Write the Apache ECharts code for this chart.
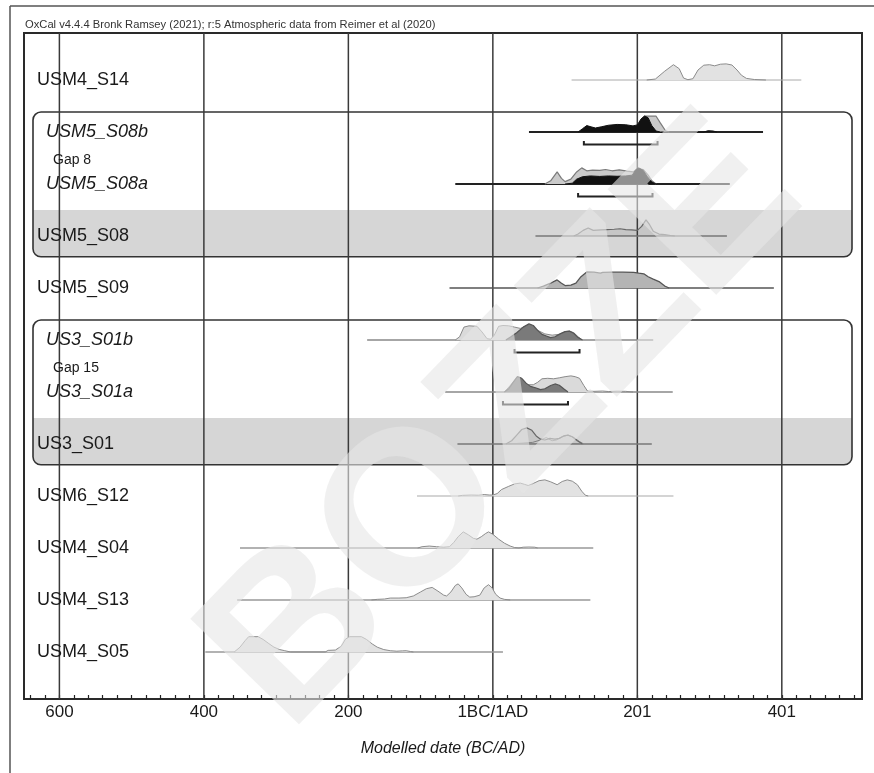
<!DOCTYPE html>
<html>
<head>
<meta charset="utf-8">
<script src="https://cdn.jsdelivr.net/npm/echarts@6/dist/echarts.min.js"></script>
<style>
  html, body { margin: 0; padding: 0; background: #fff; }
  #chart { width: 874px; height: 773px; }
</style>
</head>
<body>
<div id="chart"></div>
<script>
// rows, top to bottom
const rowLabels = ['USM4_S14', 'USM5_S08b', 'USM5_S08a', 'USM5_S08', 'USM5_S09',
  'US3_S01b', 'US3_S01a', 'US3_S01', 'USM6_S12', 'USM4_S04', 'USM4_S13', 'USM4_S05'];
const rowItalic = [false, true, true, false, false, true, true, false, false, false, false, false];
// horizontal range line of each row (years, 0 = 1BC/1AD)
const rangeStart = [109, 50, -52, 59, -60, -174, -66, -49, -105, -350, -354, -398];
const rangeEnd = [427, 374, 328, 324, 389, 222, 249, 220, 250, 139, 135, 14];

// x axis
const tickYears = [-600, -400, -200, 0, 200, 400];
const tickLabels = ['600', '400', '200', '1BC/1AD', '201', '401'];

// boundaries / gaps / 95% brackets
const gapLabels = ['Gap 8', 'Gap 15'];
const gapRows = [1.54, 5.54];
const groupFirstRow = [1, 5];
const groupLastRow = [3, 7];
const bracketRows = [1, 2, 5, 6];
const bracketStart = [126, 118, 30, 14];
const bracketEnd = [228, 221, 120, 104];

// probability distributions: [year, relative density]
const s14Like = [[213,0],[225,0.06],[238,0.55],[250,0.95],[258,0.7],[264,0.12],[270,0.02],[277,0.08],[284,0.62],[292,0.92],[300,0.95],[307,0.88],[315,0.98],[323,1],[331,0.93],[338,0.62],[344,0.3],[351,0.1],[362,0.03],[378,0]];
const s08bLike = [[198,0],[205,0.75],[211,0.98],[226,0.98],[232,0.55],[239,0.08],[244,0]];
const s08bPost = [[118,0],[124,0.2],[130,0.4],[136,0.32],[142,0.25],[150,0.32],[160,0.42],[172,0.47],[184,0.45],[194,0.38],[200,0.44],[205,0.8],[210,1],[215,0.88],[220,0.4],[226,0.06],[232,0],[292,0],[298,0.08],[305,0.06],[310,0]];
const s08aLike = [[72,0],[80,0.2],[89,0.75],[95,0.35],[100,0.15],[108,0.3],[116,0.75],[123,1],[130,0.82],[138,0.86],[148,0.85],[156,0.9],[165,0.82],[175,0.88],[186,0.8],[194,0.75],[201,0.95],[208,0.9],[215,0.55],[220,0.2],[226,0]];
const s08aPost = [[100,0],[110,0.05],[116,0.3],[124,0.45],[135,0.5],[148,0.47],[160,0.5],[172,0.48],[184,0.5],[193,0.55],[198,0.9],[202,1],[208,0.85],[214,0.45],[220,0.12],[226,0]];
const s08Post = [[112,0],[118,0.12],[125,0.35],[132,0.5],[139,0.35],[150,0.38],[158,0.4],[168,0.42],[176,0.45],[184,0.4],[192,0.38],[200,0.35],[206,0.6],[212,1],[217,0.7],[222,0.3],[230,0.12],[238,0.08],[246,0.03],[252,0]];
const s09Post = [[62,0],[70,0.12],[80,0.3],[89,0.5],[95,0.3],[100,0.15],[108,0.18],[115,0.3],[122,0.7],[130,1],[140,0.98],[149,0.92],[152,0.97],[165,0.98],[180,0.98],[195,0.97],[202,0.92],[209,0.88],[215,0.7],[222,0.55],[230,0.4],[238,0.12],[244,0]];
const s01bLike = [[-52,0],[-46,0.2],[-40,0.8],[-33,0.88],[-22,0.85],[-15,0.5],[-8,0.08],[-3,0.05],[2,0.3],[8,0.85],[14,0.9],[22,0.88],[30,0.8],[38,0.72],[46,0.85],[54,0.9],[62,0.6],[72,0.38],[82,0.3],[92,0.35],[100,0.52],[106,0.55],[112,0.45],[118,0.2],[124,0]];
const s01bPost = [[18,0],[25,0.2],[33,0.45],[42,0.8],[50,1],[56,0.9],[62,0.6],[68,0.35],[74,0.25],[80,0.15],[86,0.2],[93,0.38],[100,0.52],[106,0.55],[112,0.42],[118,0.15],[124,0]];
const s01aLike = [[16,0],[28,0.6],[34,0.95],[40,0.8],[48,0.45],[56,0.45],[62,0.6],[68,0.82],[76,0.85],[84,0.82],[92,0.88],[100,0.95],[108,1],[114,0.95],[120,0.85],[126,0.4],[131,0.06],[140,0.04],[152,0.06],[160,0.03],[172,0.05],[184,0.04],[194,0]];
const s01aPost = [[16,0],[22,0.2],[28,0.6],[34,0.95],[40,0.85],[46,0.55],[52,0.35],[60,0.25],[66,0.15],[72,0.2],[80,0.4],[86,0.5],[92,0.42],[98,0.2],[104,0]];
const s01Like = [[20,0],[40,0.05],[55,0.1],[66,0.25],[74,0.4],[82,0.2],[88,0.25],[96,0.45],[104,0.55],[112,0.4],[120,0.15],[126,0]];
const s01Post = [[18,0],[26,0.2],[34,0.6],[40,0.9],[47,1],[54,0.85],[60,0.5],[66,0.3],[72,0.25],[79,0.35],[86,0.3],[92,0.35],[98,0.5],[104,0.55],[110,0.45],[117,0.2],[124,0]];
const s12Like = [[-48,0],[-42,0.04],[-30,0.06],[-20,0.05],[-12,0.09],[-5,0.06],[0,0.06],[6,0.15],[12,0.4],[22,0.6],[30,0.75],[38,0.8],[44,0.72],[49,0.65],[56,0.78],[64,0.95],[72,1],[80,0.88],[89,0.7],[96,0.9],[103,1],[110,0.92],[117,0.7],[123,0.3],[128,0.05],[132,0]];
const s04Like = [[-104,0],[-98,0.08],[-88,0.12],[-78,0.08],[-68,0.05],[-60,0.08],[-54,0.35],[-48,0.7],[-41,1],[-34,0.82],[-27,0.6],[-22,0.55],[-16,0.7],[-10,0.9],[-6,1],[0,0.85],[8,0.55],[16,0.3],[24,0.12],[30,0.03],[36,0],[42,0.05],[50,0.06],[58,0.05],[62,0]];
const s13Like = [[-168,0],[-160,0.04],[-150,0.06],[-142,0.12],[-130,0.12],[-120,0.14],[-110,0.25],[-100,0.5],[-92,0.7],[-84,0.78],[-76,0.55],[-68,0.3],[-64,0.25],[-58,0.5],[-52,0.9],[-48,1],[-43,0.75],[-37,0.35],[-32,0.18],[-26,0.2],[-18,0.3],[-12,0.75],[-6,0.95],[-1,0.75],[4,0.35],[10,0.12],[16,0.04],[24,0]];
const s05Like = [[-358,0],[-350,0.3],[-343,0.7],[-338,0.95],[-325,0.95],[-318,0.78],[-311,0.55],[-303,0.3],[-295,0.15],[-288,0.08],[-280,0],[-232,0],[-228,0.1],[-218,0.12],[-210,0.35],[-204,0.8],[-198,0.95],[-182,0.95],[-175,0.78],[-167,0.5],[-160,0.3],[-151,0.15],[-142,0.08],[-133,0.05],[-125,0.07],[-120,0.08],[-114,0.03],[-110,0]];

const dists = [
  { row: 0, pts: s14Like, kind: 'single' },
  { row: 1, pts: s08bLike, kind: 'likeGroup' },
  { row: 1, pts: s08bPost, kind: 'postBlack' },
  { row: 2, pts: s08aLike, kind: 'likeGroup' },
  { row: 2, pts: s08aPost, kind: 'postBlack' },
  { row: 3, pts: s08Post, kind: 'band' },
  { row: 4, pts: s09Post, kind: 'mid' },
  { row: 5, pts: s01bLike, kind: 'likeLight' },
  { row: 5, pts: s01bPost, kind: 'postDark' },
  { row: 6, pts: s01aLike, kind: 'likeLight' },
  { row: 6, pts: s01aPost, kind: 'postDark' },
  { row: 7, pts: s01Like, kind: 'bandLight' },
  { row: 7, pts: s01Post, kind: 'band' },
  { row: 8, pts: s12Like, kind: 'single' },
  { row: 9, pts: s04Like, kind: 'single' },
  { row: 10, pts: s13Like, kind: 'single' },
  { row: 11, pts: s05Like, kind: 'single' }
];

const kindStyle = {
  single:    { fill: '#e2e2e2', stroke: '#8c8c8c', w: 1 },
  likeGroup: { fill: '#cacaca', stroke: '#7a7a7a', w: 1.2 },
  postBlack: { fill: '#111111', stroke: '#111111', w: 1 },
  band:      { fill: 'rgba(0,0,0,0.07)', stroke: '#666666', w: 1.2 },
  bandLight: { fill: 'rgba(0,0,0,0)', stroke: '#8a8a8a', w: 1 },
  mid:       { fill: '#b4b4b4', stroke: '#555555', w: 1.3 },
  likeLight: { fill: '#dadada', stroke: '#8a8a8a', w: 1 },
  postDark:  { fill: '#7a7a7a', stroke: '#555555', w: 1.2 }
};
const lineStyleByRow = [
  ['#aaaaaa', 1], ['#222222', 2], ['#222222', 2], ['#777777', 1.3], ['#555555', 1.5],
  ['#888888', 1.3], ['#888888', 1.3], ['#777777', 1.3], ['#aaaaaa', 1.2],
  ['#999999', 1.3], ['#999999', 1.3], ['#999999', 1.3]
];

const PEAK = 0.31; // row units of a full-height distribution
const minorTicks = [];
for (let y = -640; y <= 500; y += 20) minorTicks.push(y);

const chart = echarts.init(document.getElementById('chart'), null, { renderer: 'canvas' });

const series = [];

// grey bands + rounded group boxes
series.push({
  type: 'custom', z: 1, silent: true,
  data: groupFirstRow.map((r, i) => [0, r, groupLastRow[i]]),
  renderItem: (params, api) => {
    const cs = params.coordSys;
    const top = api.coord([0, api.value(1) - 0.385])[1];
    const bottom = api.coord([0, api.value(2) + 0.4])[1];
    const bandTop = api.coord([0, api.value(2) - 0.5])[1];
    const x = cs.x + 9, w = cs.width - 19;
    return { type: 'group', children: [
      { type: 'rect', shape: { x: x, y: bandTop, width: w, height: bottom - bandTop, r: [0, 0, 8, 8] },
        style: { fill: '#d6d6d6' } },
      { type: 'rect', shape: { x: x, y: top, width: w, height: bottom - top, r: 8 },
        style: { fill: 'none', stroke: '#333', lineWidth: 1.6 } }
    ] };
  }
});

// vertical grid lines
series.push({
  type: 'custom', z: 2, silent: true,
  data: tickYears.map(v => [v, 0]),
  renderItem: (params, api) => {
    const cs = params.coordSys;
    const x = api.coord([api.value(0), 0])[0];
    return { type: 'line', shape: { x1: x, y1: cs.y, x2: x, y2: cs.y + cs.height },
      style: { stroke: '#3a3a3a', lineWidth: 1.5 } };
  }
});

// range lines
series.push({
  type: 'custom', z: 3, silent: true,
  data: rangeStart.map((s, i) => [s, rangeEnd[i], i]),
  renderItem: (params, api) => {
    const a = api.coord([api.value(0), api.value(2)]);
    const b = api.coord([api.value(1), api.value(2)]);
    const st = lineStyleByRow[params.dataIndex];
    return { type: 'line', shape: { x1: a[0], y1: a[1], x2: b[0], y2: b[1] },
      style: { stroke: st[0], lineWidth: st[1] } };
  }
});

// distributions
dists.forEach((d, i) => {
  const st = kindStyle[d.kind];
  series.push({
    type: 'line', z: 4 + i * 0.01, silent: true, symbol: 'none', smooth: false,
    data: d.pts.map(p => [p[0], d.row - PEAK * p[1]]),
    lineStyle: { color: st.stroke, width: st.w },
    areaStyle: { origin: d.row, color: st.fill, opacity: 1 }
  });
});

// 95% range brackets
series.push({
  type: 'custom', z: 6, silent: true,
  data: bracketRows.map((r, i) => [bracketStart[i], bracketEnd[i], r]),
  renderItem: (params, api) => {
    const a = api.coord([api.value(0), api.value(2) + 0.24]);
    const b = api.coord([api.value(1), api.value(2) + 0.24]);
    return { type: 'polyline',
      shape: { points: [[a[0], a[1] - 3.5], [a[0], a[1]], [b[0], b[1]], [b[0], b[1] - 3.5]] },
      style: { stroke: '#222', lineWidth: 2, fill: 'none' } };
  }
});

// row labels
series.push({
  type: 'custom', z: 7, silent: true,
  data: rowLabels.map((t, i) => [0, i]),
  renderItem: (params, api) => {
    const cs = params.coordSys;
    const i = params.dataIndex;
    const y = api.coord([0, api.value(1)])[1];
    return { type: 'text', style: {
      text: rowLabels[i], x: cs.x + (rowItalic[i] ? 22 : 13), y: y,
      fill: '#1a1a1a', align: 'left', verticalAlign: 'middle',
      font: (rowItalic[i] ? 'italic ' : '') + '18px "Liberation Sans", Arial, sans-serif' } };
  }
});

// gap labels
series.push({
  type: 'custom', z: 7, silent: true,
  data: gapRows.map(r => [0, r]),
  renderItem: (params, api) => {
    const cs = params.coordSys;
    const y = api.coord([0, api.value(1)])[1];
    return { type: 'text', style: {
      text: gapLabels[params.dataIndex], x: cs.x + 29, y: y,
      fill: '#1a1a1a', align: 'left', verticalAlign: 'middle',
      font: '14px "Liberation Sans", Arial, sans-serif' } };
  }
});

chart.setOption({
  animation: false,
  backgroundColor: '#fff',
  grid: { left: 24, top: 33, width: 838, height: 666, show: true,
    borderColor: '#2a2a2a', borderWidth: 2, backgroundColor: 'transparent' },
  xAxis: {
    type: 'value', min: -649, max: 511, position: 'bottom',
    axisLine: { show: false, onZero: false },
    splitLine: { show: false },
    axisTick: { show: true, inside: true, length: 4, customValues: minorTicks,
      lineStyle: { color: '#222', width: 1.2 } },
    axisLabel: { customValues: tickYears, margin: 5, color: '#1a1a1a', fontSize: 17,
      fontFamily: '"Liberation Sans", Arial, sans-serif',
      formatter: v => tickLabels[tickYears.indexOf(v)] },
    name: 'Modelled date (BC/AD)', nameLocation: 'middle', nameGap: 42,
    nameTextStyle: { fontStyle: 'italic', fontSize: 16, color: '#1a1a1a',
      fontFamily: '"Liberation Sans", Arial, sans-serif' }
  },
  yAxis: { type: 'value', min: -0.904, max: 11.904, inverse: true, show: false },
  series: series,
  graphic: [
    { type: 'line', z: 50, silent: true, shape: { x1: 10, y1: 6, x2: 874, y2: 6 },
      style: { stroke: '#555', lineWidth: 1.5 } },
    { type: 'line', z: 50, silent: true, shape: { x1: 10, y1: 6, x2: 10, y2: 773 },
      style: { stroke: '#555', lineWidth: 1.5 } },
    { type: 'text', z: 50, silent: true, x: 25, y: 25,
      style: { text: 'OxCal v4.4.4 Bronk Ramsey (2021); r:5 Atmospheric data from Reimer et al (2020)',
        fill: '#333', font: '11.2px "Liberation Sans", Arial, sans-serif', verticalAlign: 'middle' } },
    { type: 'text', z: 100, silent: true, x: 505, y: 425, rotation: 0.8,
      style: { text: 'BOZZE', fill: 'rgba(230,230,230,0.6)', align: 'center', verticalAlign: 'middle',
        font: 'bold 220px "Liberation Sans", Arial, sans-serif' } }
  ]
});
</script>
</body>
</html>
